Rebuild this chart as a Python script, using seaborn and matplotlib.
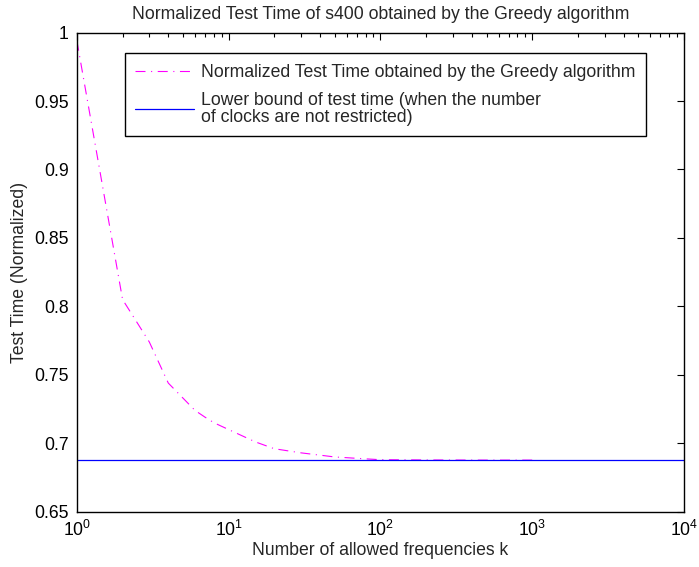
#!/usr/bin/env python
"""
Normalized test time of s400 vs number of allowed frequencies (Greedy algorithm).
"""

import matplotlib
matplotlib.use('Agg')
import matplotlib.pyplot as plt
from matplotlib.ticker import LogLocator, FixedLocator, NullFormatter
import seaborn as sns
import numpy as np

# values
k_values = [1, 2, 3, 4, 5, 6, 7, 8, 10, 15, 20, 30, 50, 70, 100, 200, 500, 1000]
greedy_time = [0.994, 0.805, 0.774, 0.744, 0.733, 0.724, 0.719, 0.715, 0.710,
               0.701, 0.696, 0.693, 0.690, 0.689, 0.688, 0.6878, 0.6877, 0.6877]
bound_k = [1, 10000]
lower_bound = [0.6877, 0.6877]

y_ticks = [0.65, 0.7, 0.75, 0.8, 0.85, 0.9, 0.95, 1]
y_labels = ['0.65', '0.7', '0.75', '0.8', '0.85', '0.9', '0.95', '1']

greedy_label = 'Normalized Test Time obtained by the Greedy algorithm'
bound_label = 'Lower bound of test time (when the number\nof clocks are not restricted)'

FS = 12.7


def main():
    sns.set_style('white')
    plt.rcParams['font.family'] = ['Liberation Sans', 'DejaVu Sans']
    plt.rcParams['mathtext.fontset'] = 'custom'
    plt.rcParams['mathtext.rm'] = 'Liberation Sans'
    plt.rcParams['mathtext.it'] = 'Liberation Sans'

    fig = plt.figure(figsize=(6.99, 5.67), dpi=100)
    ax = fig.add_axes([0.110, 0.0975, 0.8685, 0.845])

    sns.lineplot(x=k_values, y=greedy_time, ax=ax, color='#ff00ff', linewidth=0.8,
                 linestyle=(0, (9, 5, 1, 5)), label=greedy_label)
    sns.lineplot(x=bound_k, y=lower_bound, ax=ax, color='#0000ff', linewidth=0.9,
                 label=bound_label)

    ax.set_xscale('log')
    ax.set_xlim(1, 10000)
    ax.set_ylim(0.65, 1)
    ax.set_yticks(y_ticks)
    ax.set_yticklabels(y_labels)
    ax.xaxis.set_major_locator(FixedLocator([1, 10, 100, 1000, 10000]))
    ax.set_xticklabels([r'$10^{0}$', r'$10^{1}$', r'$10^{2}$', r'$10^{3}$', r'$10^{4}$'])
    ax.xaxis.set_minor_locator(LogLocator(base=10, subs=np.arange(2, 10), numticks=20))
    ax.xaxis.set_minor_formatter(NullFormatter())

    ax.tick_params(which='both', direction='in', top=True, right=True, colors='black',
                   labelsize=FS, pad=6)
    ax.tick_params(which='major', length=5, width=0.8)
    ax.tick_params(which='minor', length=3, width=0.8)
    for spine in ax.spines.values():
        spine.set_color('black')
        spine.set_linewidth(1.0)

    ax.set_xlabel('Number of allowed frequencies k', fontsize=FS, labelpad=1)
    ax.set_ylabel('Test Time (Normalized)', fontsize=FS, labelpad=4)
    ax.set_title('Normalized Test Time of s400 obtained by the Greedy algorithm',
                 fontsize=FS, pad=10)

    leg = ax.legend(loc='upper left', bbox_to_anchor=(0.079, 0.957), fontsize=FS,
                    frameon=True, fancybox=False, handlelength=3.3, handletextpad=0.42,
                    borderpad=0.6, labelspacing=0.62, borderaxespad=0)
    for txt in leg.get_texts():
        txt.set_linespacing(1.0)
    leg.get_frame().set_edgecolor('black')
    leg.get_frame().set_linewidth(1.0)
    leg.get_frame().set_alpha(1)

    plt.savefig('out.png', dpi=100)
    plt.close()


if __name__ == '__main__':
    main()
